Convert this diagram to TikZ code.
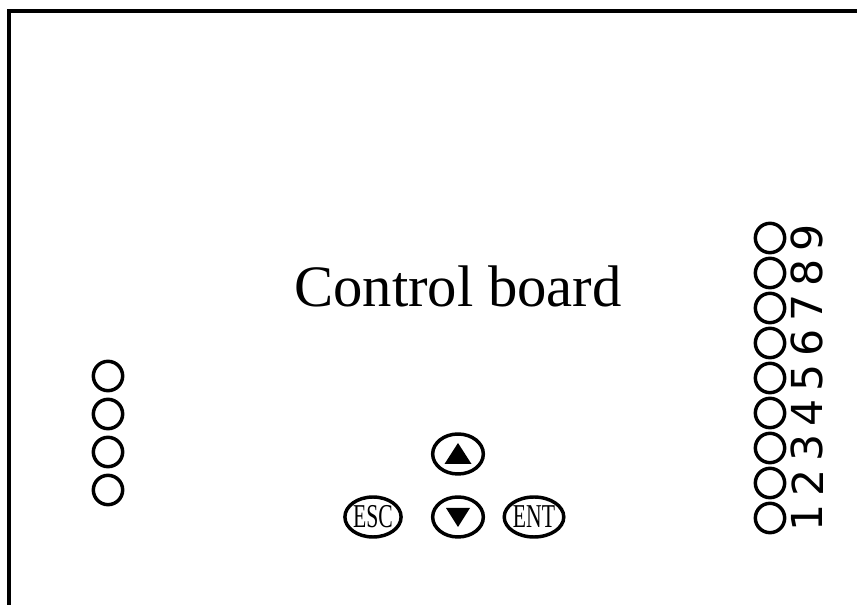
\documentclass[tikz,border=0pt]{standalone}
\usepackage{fontspec}
\setmainfont{Liberation Serif}
\newfontfamily\digitfont{DejaVu Sans}
\usepackage{graphicx}
\usepackage{tikz}
\usetikzlibrary{shapes.geometric}

\begin{document}
\begin{tikzpicture}[
            x = 0.75pt, y = -0.75pt, % one unit = one pixel
            node distance = 26.25pt, % pitch of the right connector
            line width = 2.6pt
            , every text node part/.style={align=center}
        ]

        \tikzstyle{hole}=[
            draw = black,
            circle,
            inner sep = 0pt,
            minimum size = 22pt
        ]
        \tikzstyle{button}=[
            draw = black,
            ellipse,
            inner sep = 0pt,
            minimum width = 38pt,
            minimum height = 30pt,
            font = \fontsize{25}{25}\selectfont
        ]
        \tikzstyle{digit}=[
            font = \digitfont\fontsize{32}{32}\selectfont,
            inner sep = 0pt
        ]

        \useasboundingbox (0,0) rectangle (857,605);
        \clip (0,0) rectangle (857,605);

        % board outline, runs off the page on the right and bottom
        \draw[line width = 3pt] (8.8,11.3) rectangle (900,700);

        \node (title) at (458,307) [anchor = base, font = \fontsize{44}{44}\selectfont] {Control board};

        % left connector
        \node[hole] (L1) at (108,376) {};
        \node[hole] (L2) [below of=L1, node distance=28.5pt] {};
        \node[hole] (L3) [below of=L2, node distance=28.5pt] {};
        \node[hole] (L4) [below of=L3, node distance=28.5pt] {};

        % right connector
        \node[hole] (R1) at (770,518) {};
        \node[hole] (R2) [above of=R1] {};
        \node[hole] (R3) [above of=R2] {};
        \node[hole] (R4) [above of=R3] {};
        \node[hole] (R5) [above of=R4] {};
        \node[hole] (R6) [above of=R5] {};
        \node[hole] (R7) [above of=R6] {};
        \node[hole] (R8) [above of=R7] {};
        \node[hole] (R9) [above of=R8] {};

        \node[digit] (N1) [right of=R1, node distance=28pt] {\rotatebox{90}{1}};
        \node[digit] (N2) [right of=R2, node distance=28pt] {\rotatebox{90}{2}};
        \node[digit] (N3) [right of=R3, node distance=28pt] {\rotatebox{90}{3}};
        \node[digit] (N4) [right of=R4, node distance=28pt] {\rotatebox{90}{4}};
        \node[digit] (N5) [right of=R5, node distance=28pt] {\rotatebox{90}{5}};
        \node[digit] (N6) [right of=R6, node distance=28pt] {\rotatebox{90}{6}};
        \node[digit] (N7) [right of=R7, node distance=28pt] {\rotatebox{90}{7}};
        \node[digit] (N8) [right of=R8, node distance=28pt] {\rotatebox{90}{8}};
        \node[digit] (N9) [right of=R9, node distance=28pt] {\rotatebox{90}{9}};

        % keypad
        \node[button] (down) at (458,517) {};
        \node[button] (up) [above of=down, node distance=47.25pt] {};
        \node[button] (esc) [left of=down, node distance=63.75pt] {\scalebox{0.65}[1]{ESC}};
        \node[button] (ent) [right of=down, node distance=57pt] {\scalebox{0.65}[1]{ENT}};

        \fill ([shift={(-13.5,10)}]up.center) -- ++(27,0) -- ++(-13.5,-21) -- cycle;
        \fill ([shift={(-12,-9)}]down.center) -- ++(24,0) -- ++(-12,19) -- cycle;

    \end{tikzpicture}
\end{document}
